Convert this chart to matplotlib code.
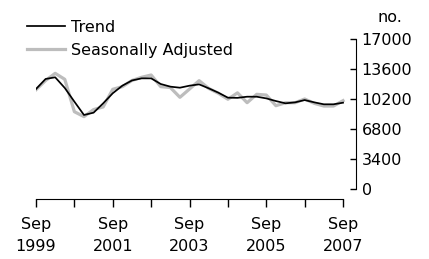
#!/usr/bin/env python3
import numpy as np
import matplotlib
matplotlib.use('Agg')
import matplotlib.pyplot as plt

# Quarterly series, Sep 1999 to Sep 2007
trend = [11330, 12470, 12660, 11450, 9900, 8390, 8650, 9710, 10850, 11710,
         12300, 12540, 12540, 11900, 11600, 11480, 11710, 11860, 11410, 10920,
         10350, 10330, 10460, 10460, 10270, 9970, 9710, 9820, 10080, 9820,
         9600, 9600, 9780]
seas_adj = [11250, 12300, 13110, 12430, 8760, 8200, 9000, 9300, 11300, 11600,
            12300, 12660, 12920, 11600, 11500, 10390, 11330, 12280, 11400, 10850,
            10170, 10900, 9780, 10730, 10650, 9440, 9780, 9780, 10200, 9710,
            9400, 9400, 10010]
tick_labels = ['Sep\n1999', '', 'Sep\n2001', '', 'Sep\n2003', '', 'Sep\n2005', '', 'Sep\n2007']
y_ticks = [0, 3400, 6800, 10200, 13600, 17000]

plt.rcParams['font.family'] = 'DejaVu Sans'
plt.rcParams['font.size'] = 11.5

fig = plt.figure(figsize=(4.29, 2.59), dpi=100)
ax = fig.add_axes([36/429, 70/259, 320/429, 150/259])

x = np.arange(len(trend))
ax.plot(x, seas_adj, color='#bdbdbd', lw=2.3, label='Seasonally Adjusted', zorder=2)
ax.plot(x, trend, color='black', lw=1.25, label='Trend', zorder=3)

ax.set_xlim(0, 33.35)
ax.set_ylim(0, 17000)

# Axes styling
for s in ['left', 'top']:
    ax.spines[s].set_visible(False)
ax.spines['right'].set_bounds(0, 17000)
ax.spines['bottom'].set_bounds(0, 32)
ax.spines['bottom'].set_position(('outward', 7.2))

ax.yaxis.tick_right()
ax.set_yticks(y_ticks)
ax.set_yticklabels([str(v) for v in y_ticks])
ax.tick_params(axis='y', direction='in', length=4, width=1.0, pad=4)

ax.set_xticks(np.arange(0, 33, 4))
ax.set_xticklabels(tick_labels)
ax.tick_params(axis='x', direction='out', length=5.5, width=1.0, pad=7.5)
for t in ax.get_xticklabels():
    t.set_linespacing(1.55)

ax.text(390/429, 1 - 17/259, 'no.', transform=fig.transFigure, ha='center', va='center')

h, l = ax.get_legend_handles_labels()
ax.legend(h[::-1], l[::-1], loc='upper left', bbox_to_anchor=(27/429, 1 - 20/259),
          bbox_transform=fig.transFigure, frameon=False, handlelength=2.4,
          handletextpad=0.37, labelspacing=0.5, borderaxespad=0, borderpad=0)

fig.savefig('out.png', dpi=100)
